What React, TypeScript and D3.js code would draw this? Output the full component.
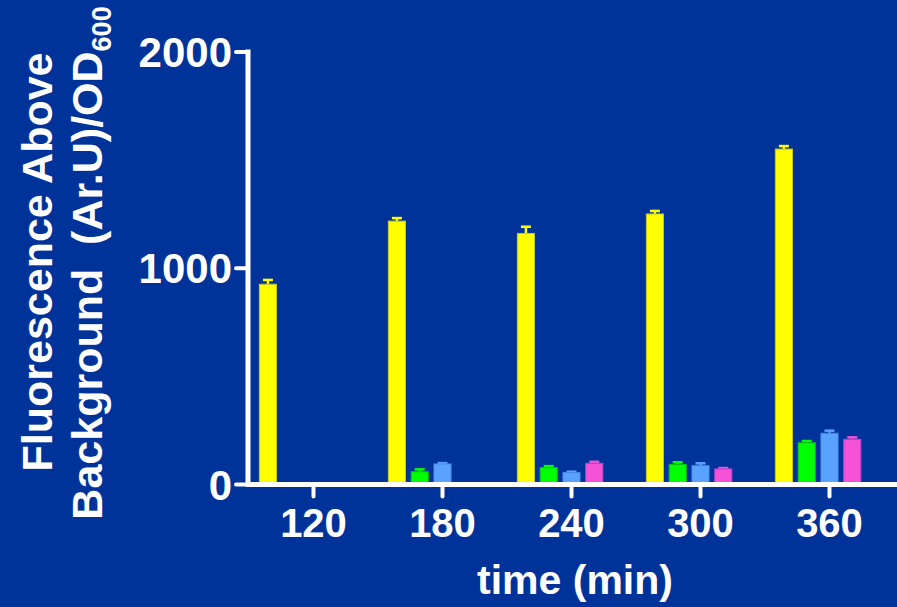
import React from "react";
import * as d3 from "d3";

const W = 897;
const H = 607;

// Sampling times (min)
const times = ["120", "180", "240", "300", "360"];

// Mean fluorescence per strain at each time point (null = not measured)
const yellowMean: (number | null)[] = [926, 1218, 1161, 1251, 1551];
const yellowErr: (number | null)[] = [20, 14, 31, 14, 14];
const greenMean: (number | null)[] = [null, 59, 78, 93, 193];
const greenErr: (number | null)[] = [null, 11, 7, 10, 8];
const blueMean: (number | null)[] = [null, 95, 55, 87, 237];
const blueErr: (number | null)[] = [null, 4, 4, 11, 12];
const pinkMean: (number | null)[] = [null, null, 98, 72, 209];
const pinkErr: (number | null)[] = [null, null, 7, 4, 9];

const yTicks = [0, 1000, 2000];

const series = [
  { key: "s1", mean: yellowMean, err: yellowErr, fill: "#ffff00", stroke: "#c8c820" },
  { key: "s2", mean: greenMean, err: greenErr, fill: "#00ff00", stroke: "#10c010" },
  { key: "s3", mean: blueMean, err: blueErr, fill: "#5aa2ff", stroke: "#4a8ae0" },
  { key: "s4", mean: pinkMean, err: pinkErr, fill: "#f552d8", stroke: "#b048c8" },
];
// a fifth slot in each group is left empty so the third bar sits on the tick
const slots = ["s1", "s2", "s3", "s4", "s5"];

const BG = "#003399";
const FONT = "'Liberation Sans', Arial, Helvetica, sans-serif";

export default function App() {
  const x0 = d3.scaleBand<string>().domain(times).range([249, 894]).padding(0);
  const x1 = d3
    .scaleBand<string>()
    .domain(slots)
    .range([0, x0.bandwidth()])
    .paddingInner(0.25)
    .paddingOuter(0.455);
  const y = d3.scaleLinear().domain([0, 2000]).range([484.5, 52]);

  const axisX = 248;
  const baseY = y(0);

  return (
    <svg
      width={W}
      height={H}
      style={{ position: "absolute", left: 0, top: 0, display: "block" }}
      fontFamily={FONT}
      fontWeight="bold"
    >
      <rect x={0} y={0} width={W} height={H} fill={BG} />

      {/* bars with upward error bars */}
      {series.map((s) =>
        times.map((t, i) => {
          const v = s.mean[i];
          if (v == null) return null;
          const e = s.err[i] ?? 0;
          const bx = (x0(t) ?? 0) + (x1(s.key) ?? 0);
          const bw = x1.bandwidth();
          const cx = bx + bw / 2;
          return (
            <g key={s.key + t}>
              <line x1={cx} x2={cx} y1={y(v)} y2={y(v + e)} stroke={s.fill} strokeWidth={2.5} />
              <line x1={cx - 5} x2={cx + 5} y1={y(v + e)} y2={y(v + e)} stroke={s.fill} strokeWidth={2.5} />
              <rect
                x={bx}
                y={y(v)}
                width={bw}
                height={baseY - y(v)}
                fill={s.fill}
                stroke={s.stroke}
                strokeWidth={1}
              />
            </g>
          );
        })
      )}

      {/* y axis */}
      <line x1={axisX} x2={axisX} y1={y(2000) - 2.5} y2={baseY + 2} stroke="#fff" strokeWidth={5} />
      {yTicks.map((t) => (
        <g key={t}>
          <line x1={axisX - 12} x2={axisX} y1={y(t)} y2={y(t)} stroke="#fff" strokeWidth={4} strokeLinecap="round" />
          <text x={232} y={y(t)} dy="0.36em" textAnchor="end" fill="#fff" fontSize={42}>
            {t}
          </text>
        </g>
      ))}

      {/* x axis */}
      <line x1={axisX - 2} x2={W} y1={baseY} y2={baseY} stroke="#fff" strokeWidth={5} />
      {times.map((t) => {
        const cx = (x0(t) ?? 0) + (x1("s3") ?? 0) + x1.bandwidth() / 2;
        return (
          <g key={t}>
            <line x1={cx} x2={cx} y1={baseY} y2={baseY + 12} stroke="#fff" strokeWidth={4} strokeLinecap="round" />
            <text x={cx} y={537} textAnchor="middle" fill="#fff" fontSize={40}>
              {t}
            </text>
          </g>
        );
      })}

      <text x={575} y={594} textAnchor="middle" fill="#fff" fontSize={41}>
        time (min)
      </text>

      {/* y axis title, two lines */}
      <text transform="translate(52,262) rotate(-90)" textAnchor="middle" fill="#fff" fontSize={43}>
        Fluorescence Above
      </text>
      <text
        transform="translate(102,263) rotate(-90)"
        textAnchor="middle"
        fill="#fff"
        fontSize={43}
        style={{ whiteSpace: "pre" }}
      >
        {"Background  (Ar.U)/OD"}
        <tspan fontSize={27} dy={9}>
          600
        </tspan>
      </text>
    </svg>
  );
}
